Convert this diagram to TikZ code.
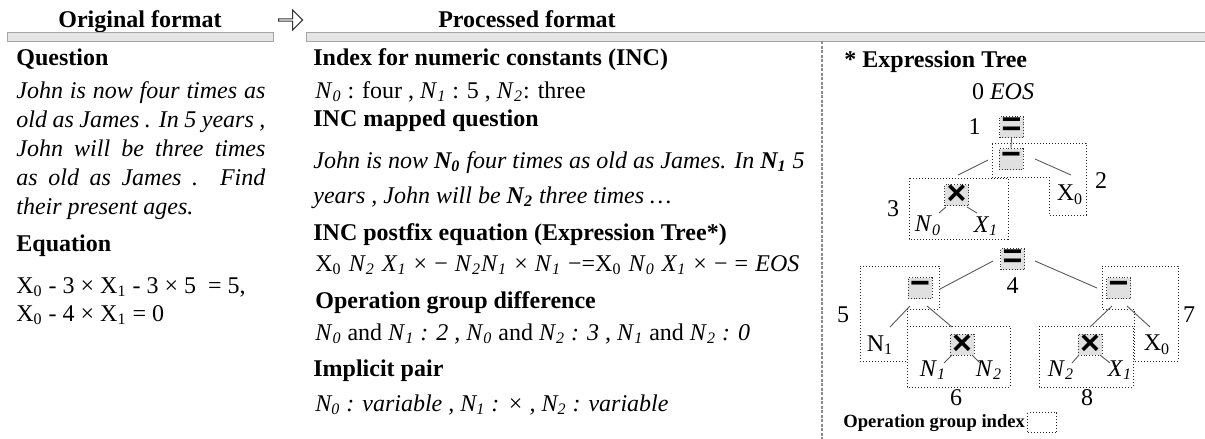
\documentclass[tikz,border=0pt]{standalone}
\usepackage{fontspec}
\setmainfont{Liberation Serif}
\setsansfont{Liberation Sans}
\usepackage{tikz}
\usetikzlibrary{positioning, shapes.arrows}

\newcommand{\numN}[1]{\textit{N}\textsubscript{\textit{#1}}}
\newcommand{\numNb}[1]{\textbf{\textit{N}\textsubscript{\textit{#1}}}}
\newcommand{\numNr}[1]{N\textsubscript{#1}}
\newcommand{\varX}[1]{X\textsubscript{#1}}
\newcommand{\varXi}[1]{\textit{X}\textsubscript{\textit{#1}}}
\newcommand{\jline}[1]{\makebox[124.5pt][s]{#1}}

\begin{document}
\begin{tikzpicture}[
    x=0.5pt, y=-0.5pt,
    txt/.style  = {font=\fontsize{12}{14.5}\selectfont, inner sep=0, anchor=base west},
    itxt/.style = {txt, font=\fontsize{12}{14.5}\selectfont\itshape},
    head/.style = {txt, font=\fontsize{12}{14.5}\selectfont\bfseries},
    lbl/.style  = {font=\fontsize{12}{14.5}\selectfont, inner sep=0},
    opbox/.style = {draw=black!80, densely dotted, fill=black!12, inner sep=0,
        minimum width=12pt, minimum height=10.5pt,
        font=\fontsize{17}{17}\selectfont\sffamily\bfseries},
    bar/.style  = {fill=black!10, draw=black!35, line width=0.4pt},
    sep/.style  = {draw=black!45, dash pattern=on 1.5pt off 0.75pt, line width=0.6pt},
    grp/.style  = {draw=black!85, densely dotted, line width=0.5pt},
    edge/.style = {draw=black!65, line width=0.45pt}
]
\useasboundingbox (0,0) rectangle (1205,439);

\node[head, anchor=base] (orig) at (140,27) {Original format};
\node[draw=black!80, line width=0.5pt, single arrow, inner sep=0,
    minimum height=12pt, minimum width=10pt, single arrow head extend=2pt] (flow) at (290,20) {};
\node[head, anchor=base] (proc) at (527,27) {Processed format};
\draw[bar] (7,32) rectangle (273,41);
\draw[bar] (306,32) rectangle (1206,41);
\draw[sep] (822,41) -- (822,439);

\node[head] (qhead) at (16,65) {Question};
\node[itxt] (q1) at (16,98)  {\jline{John is now four times as}};
\node[itxt] (q2) at (16,127) {\jline{old as James . In 5 years ,}};
\node[itxt] (q3) at (16,156) {\jline{John will be three times}};
\node[itxt] (q4) at (16,185) {\jline{as old as James . Find}};
\node[itxt] (q5) at (16,214) {their present ages.};
\node[head] (ehead) at (16,251) {Equation};
\node[txt] (eq1) at (16,293) {\varX{0} - 3 × \varX{1} - 3 × 5 \ = 5,};
\node[txt] (eq2) at (16,321) {\varX{0} - 4 × \varX{1} = 0};

\node[head] (inchead) at (313,65) {Index for numeric constants (INC)};
\node[txt] (inc) at (315,98) {\numN{0} : four , \numN{1} : 5 , \numN{2}: three};
\node[head] (maphead) at (313,126) {INC mapped question};
\node[itxt] (map1) at (313,168) {John is now \numNb{0} four times as old as James. In \numNb{1} 5};
\node[itxt] (map2) at (313,203) {years , John will be \numNb{2} three times …};
\node[head] (posthead) at (313,240) {INC postfix equation (Expression Tree*)};
\node[txt] (post) at (315,271) {\makebox[242pt][s]{\varX{0} \numN{2} \varXi{1} × − \numN{2}\numN{1} × \numN{1} −=\varX{0} \numN{0} \varXi{1} × − = \textit{EOS}}};
\node[head] (diffhead) at (315,308) {Operation group difference};
\node[txt] (diff) at (315,340) {\numN{0} and \numN{1}\textit{ : 2 , }\numN{0} and \numN{2}\textit{ : 3 , }\numN{1} and \numN{2}\textit{ : 0}};
\node[head] (pairhead) at (313,376) {Implicit pair};
\node[itxt] (pair) at (315,411) {\numN{0} : variable , \numN{1} : × , \numN{2} : variable};

\node[head] (treehead) at (844,67) {* Expression Tree};
\node[lbl] (eos) at (1003,92) {0 \textit{EOS}};
\node[opbox] (eqa) at (1011.5,127) {=};
\node[lbl, left=9pt of eqa] (lab1) {1};
\node[opbox] (mia) at (1011,159) {−};
\node[lbl] (x0a) at (1070,195) {\varX{0}};
\node[lbl] (lab2) at (1101,181) {2};
\node[opbox] (tia) at (956.5,195) {×};
\node[lbl] (n0a) at (928,226) {\numN{0}};
\node[lbl] (x1a) at (986,226) {\varXi{1}};
\node[lbl] (lab3) at (893,209) {3};

\node[opbox] (eqb) at (1012.5,259) {=};
\node[lbl, below=3.75pt of eqb] (lab4) {4};
\node[opbox] (mib) at (920,288) {−};
\node[lbl] (lab5) at (843,315) {5};
\node[lbl] (n1r) at (880,345) {\numNr{1}};
\node[opbox] (tib) at (962,344.5) {×};
\node[lbl] (n1b) at (933,370) {\numN{1}};
\node[lbl] (n2b) at (989,370) {\numN{2}};
\node[lbl] (lab6) at (956,398) {6};
\node[opbox] (mic) at (1118.5,288) {−};
\node[lbl] (lab7) at (1189,315) {7};
\node[lbl] (x0b) at (1157,345) {\varX{0}};
\node[opbox] (tic) at (1090,344.5) {×};
\node[lbl] (n2c) at (1061,370) {\numN{2}};
\node[lbl] (x1c) at (1120,370) {\varXi{1}};
\node[lbl] (lab8) at (1087,398) {8};

\draw[grp] (992,143) -- (1086,143) -- (1086,215) -- (1049,215) -- (1049,177) -- (992,177) -- cycle;
\draw[grp] (909,178) rectangle (1008,239);
\draw[grp] (860,266) -- (939,266) -- (939,309) -- (907,309) -- (907,361) -- (860,361) -- cycle;
\draw[grp] (907,326) rectangle (1010,387);
\draw[grp] (1102,266) -- (1178,266) -- (1178,361) -- (1134,361) -- (1134,309) -- (1102,309) -- cycle;
\draw[grp] (1039,326) rectangle (1133,387);

\draw[edge] (eqa.south) -- (mia.north);
\draw[edge] ([shift={(-23,1)}]mia.center) -- ([shift={(1.5,-20)}]tia.center);
\draw[edge] ([shift={(24,0)}]mia.center) -- ([shift={(1,-20)}]x0a.center);
\draw[edge] ([shift={(-10.5,12)}]tia.center) -- ([shift={(11,-13)}]n0a.center);
\draw[edge] ([shift={(10.5,12)}]tia.center) -- ([shift={(-9,-13)}]x1a.center);
\draw[edge] ([shift={(-19.5,2)}]eqb.center) -- ([shift={(20,1)}]mib.center);
\draw[edge] ([shift={(22.5,2)}]eqb.center) -- ([shift={(-21.5,0)}]mic.center);
\draw[edge] ([shift={(-10,18)}]mib.center) -- ([shift={(10,-18)}]n1r.center);
\draw[edge] ([shift={(7,18)}]mib.center) -- ([shift={(-10,-17.5)}]tib.center);
\draw[edge] ([shift={(-10,10.5)}]tib.center) -- ([shift={(11,-7)}]n1b.center);
\draw[edge] ([shift={(10,10.5)}]tib.center) -- ([shift={(-9,-7)}]n2b.center);
\draw[edge] ([shift={(-6.5,18)}]mic.center) -- ([shift={(0,-17.5)}]tic.center);
\draw[edge] ([shift={(8.5,18)}]mic.center) -- ([shift={(-7,-18)}]x0b.center);
\draw[edge] ([shift={(-11,10.5)}]tic.center) -- ([shift={(11,-7)}]n2c.center);
\draw[edge] ([shift={(10,10.5)}]tic.center) -- ([shift={(-10,-7)}]x1c.center);

\node[font=\fontsize{9.3}{11}\selectfont\bfseries, inner sep=0, anchor=base west] (legtext) at (843,427) {Operation group index};
\node[grp, minimum width=14.5pt, minimum height=10pt, inner sep=0, right=1pt of legtext] (legbox) {};
\end{tikzpicture}
\end{document}
